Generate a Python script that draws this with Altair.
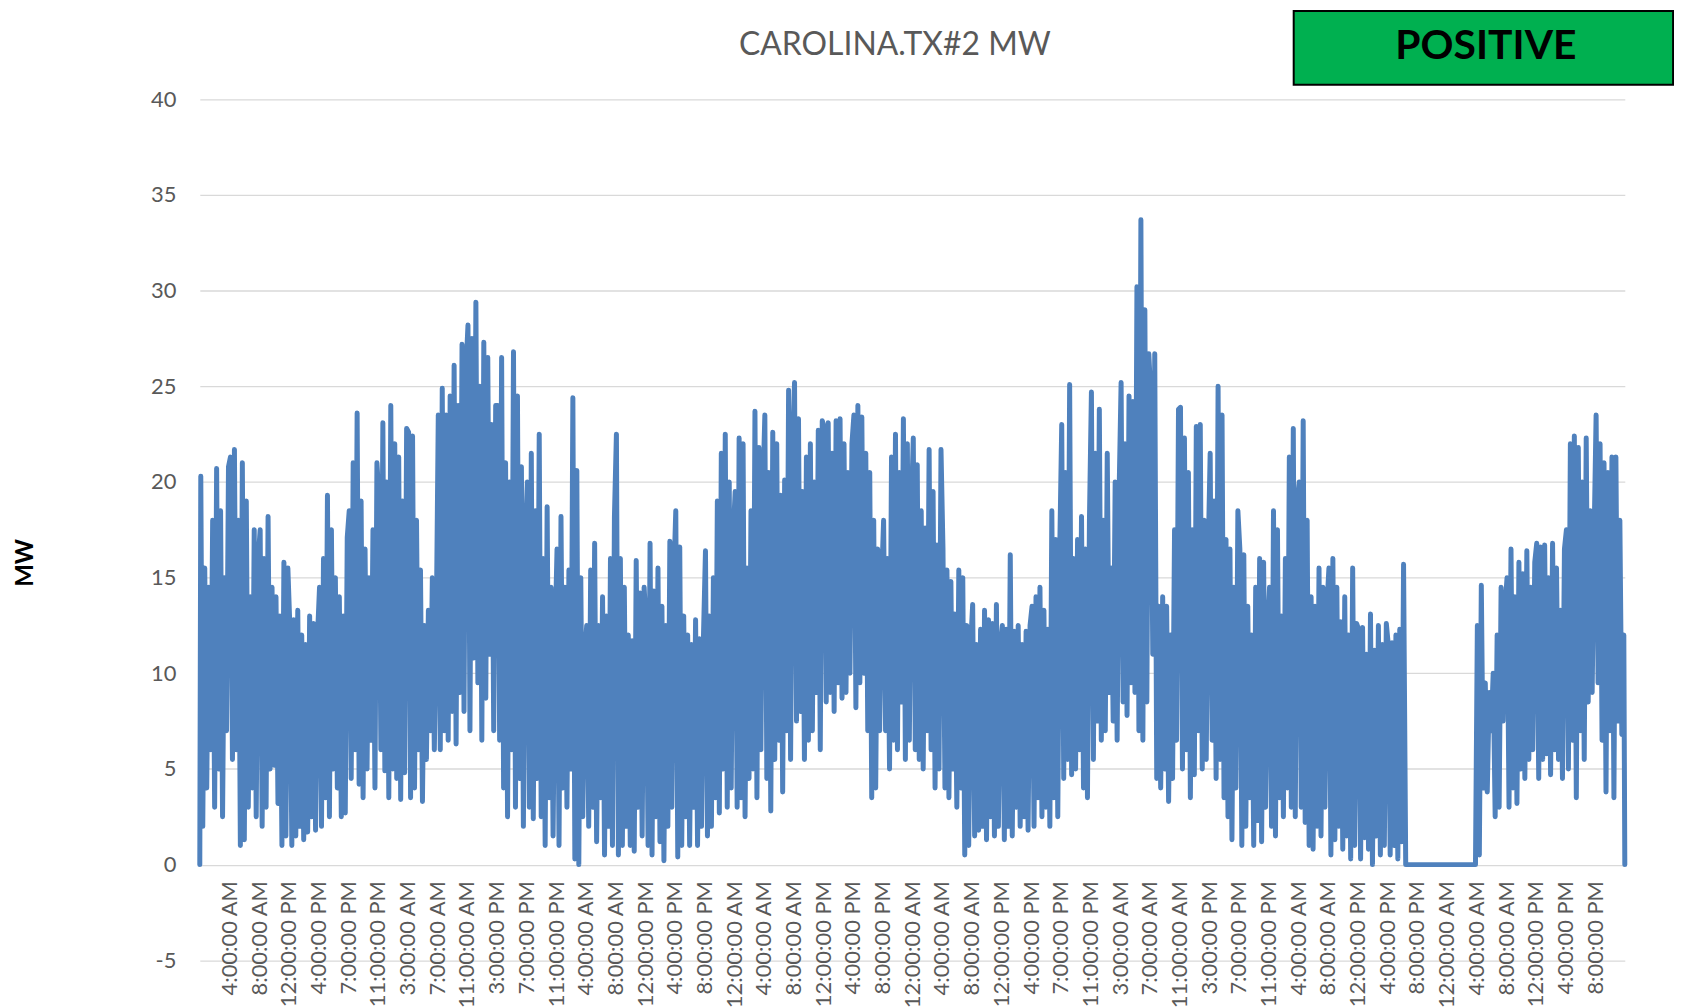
import json
import altair as alt
import pandas as pd

# ---------------- data ----------------
labels = ["4:00:00 AM", "8:00:00 AM", "12:00:00 PM", "4:00:00 PM", "7:00:00 PM", "11:00:00 PM",
          "3:00:00 AM", "7:00:00 AM", "11:00:00 AM", "3:00:00 PM", "7:00:00 PM", "11:00:00 PM",
          "4:00:00 AM", "8:00:00 AM", "12:00:00 PM", "4:00:00 PM", "8:00:00 PM", "12:00:00 AM",
          "4:00:00 AM", "8:00:00 AM", "12:00:00 PM", "4:00:00 PM", "8:00:00 PM", "12:00:00 AM",
          "4:00:00 AM", "8:00:00 AM", "12:00:00 PM", "4:00:00 PM", "7:00:00 PM", "11:00:00 PM",
          "3:00:00 AM", "7:00:00 AM", "11:00:00 AM", "3:00:00 PM", "7:00:00 PM", "11:00:00 PM",
          "4:00:00 AM", "8:00:00 AM", "12:00:00 PM", "4:00:00 PM", "8:00:00 PM", "12:00:00 AM",
          "4:00:00 AM", "8:00:00 AM", "12:00:00 PM", "4:00:00 PM", "8:00:00 PM"]

# spikes (peaks) and dips (troughs) read per label interval
peaks = [
    [20.3, 15.5, 14.5, 18.0, 20.7, 18.5, 15.0, 20.8],
    [21.3, 21.7, 18.0, 21.0, 19.0, 14.0, 17.5, 16.0],
    [17.5, 16.0, 18.2, 14.5, 14.0, 13.0, 15.8, 15.5],
    [12.5, 12.8, 13.3, 12.0, 11.5, 13.0, 12.6, 12.0],
    [14.5, 16.0, 19.3, 17.5, 15.0, 14.0, 13.0, 17.1],
    [18.5, 21.0, 23.6, 19.0, 16.5, 15.0, 17.5, 21.0],
    [19.2, 23.1, 20.0, 24.0, 22.0, 21.3, 19.0, 22.8],
    [22.6, 22.4, 18.0, 15.4, 12.5, 13.3, 15.0, 12.7],
    [23.5, 24.9, 23.5, 24.5, 26.1, 24.0, 27.2, 25.9],
    [28.2, 27.5, 29.4, 25.0, 27.3, 26.5, 23.0, 24.0],
    [24.0, 26.5, 21.0, 20.0, 26.8, 24.5, 20.8, 17.0],
    [20.0, 21.5, 18.5, 22.5, 16.0, 18.7, 14.5, 12.0],
    [16.5, 18.2, 14.5, 15.4, 24.4, 20.6, 15.0, 11.0],
    [12.5, 15.4, 16.8, 12.5, 14.0, 13.0, 16.0, 18.2],
    [22.5, 16.0, 14.5, 12.0, 11.7, 15.9, 14.2, 14.5],
    [12.5, 16.8, 14.3, 15.5, 13.5, 12.5, 16.9, 15.0],
    [18.5, 16.6, 13.0, 12.0, 11.5, 12.8, 11.8, 12.0],
    [16.4, 13.0, 15.0, 19.0, 21.5, 22.5, 20.0, 17.2],
    [19.5, 22.3, 22.0, 15.5, 18.5, 23.7, 21.8, 19.6],
    [23.5, 20.5, 22.6, 22.0, 19.3, 20.1, 24.8, 21.5],
    [25.2, 23.3, 19.5, 21.3, 22.0, 20.0, 22.7, 23.2],
    [22.8, 23.1, 21.5, 23.2, 23.3, 22.0, 20.5, 22.0],
    [23.5, 24.0, 23.4, 21.5, 20.5, 18.0, 16.5, 14.8],
    [18.0, 16.0, 21.3, 22.5, 20.5, 23.3, 22.0, 18.5],
    [22.3, 20.9, 18.5, 17.6, 21.7, 19.5, 16.7, 21.7],
    [16.5, 15.4, 14.8, 13.1, 15.4, 15.0, 12.5, 11.5],
    [13.6, 11.5, 12.3, 13.3, 12.8, 12.6, 13.6, 11.5],
    [12.5, 12.3, 16.2, 12.2, 12.5, 11.5, 12.2, 12.5],
    [13.5, 14.0, 14.5, 13.3, 12.3, 18.5, 17.0, 16.5],
    [23.0, 20.5, 25.1, 16.0, 17.0, 18.2, 16.5, 18.0],
    [24.7, 21.5, 23.8, 18.0, 21.5, 15.5, 20.0, 19.5],
    [25.2, 22.0, 24.5, 24.2, 30.2, 33.7, 29.0, 26.7],
    [24.5, 26.7, 13.5, 14.0, 13.5, 12.0, 17.5, 23.8],
    [23.9, 22.3, 20.5, 17.5, 22.9, 23.0, 18.0, 16.2],
    [21.5, 19.0, 25.0, 23.5, 17.0, 16.5, 14.5, 18.5],
    [16.5, 16.2, 13.5, 12.0, 14.5, 16.0, 15.8, 12.3],
    [14.5, 18.5, 17.5, 13.0, 16.0, 21.3, 22.8, 19.0],
    [20.0, 23.2, 18.0, 14.0, 13.5, 15.5, 14.5, 13.5],
    [15.5, 16.0, 14.5, 12.7, 14.0, 12.0, 15.5, 12.6],
    [12.3, 12.4, 11.0, 13.1, 11.2, 12.5, 11.5, 12.6],
    [11.5, 11.6, 12.0, 12.3, 15.7],
    [],
    [],
    [12.5, 14.6, 9.5, 9.0, 10.0, 12.0, 14.5, 13.5],
    [15.0, 16.5, 14.0, 15.8, 15.2, 16.4, 14.5, 15.8],
    [16.8, 16.6, 16.7, 15.0, 16.8, 15.5, 13.3, 16.5],
    [17.5, 22.0, 22.4, 21.8, 20.0, 22.3, 18.5, 17.2],
    [23.5, 22.0, 21.0, 20.5, 21.3, 21.3, 18.0, 12.0],
]
troughs = [
    [2.0, 4.0, 6.0, 3.0, 5.0, 2.5, 7.0],
    [5.5, 6.0, 1.0, 1.3, 3.0, 4.0, 2.5],
    [2.0, 3.0, 5.0, 5.2, 3.2, 1.0, 1.5],
    [1.0, 1.5, 2.0, 1.3, 1.7, 2.5, 1.8],
    [2.0, 3.5, 2.5, 5.0, 4.0, 2.5, 2.7],
    [4.5, 6.0, 4.2, 3.5, 5.0, 6.5, 4.0],
    [6.0, 4.9, 3.5, 5.0, 4.5, 3.4, 4.8],
    [3.5, 4.0, 6.0, 3.3, 5.5, 7.0, 6.0],
    [6.0, 7.0, 6.5, 8.0, 6.3, 9.0, 8.0],
    [7.0, 10.8, 9.5, 6.5, 8.7, 11.0, 7.0],
    [6.5, 4.0, 2.5, 6.0, 3.0, 4.5, 2.0],
    [3.0, 2.4, 4.5, 2.5, 1.0, 3.5, 1.5],
    [1.0, 4.0, 3.0, 5.0, 0.3, 0.0, 2.5],
    [2.0, 3.0, 1.2, 3.5, 0.5, 2.0, 1.0],
    [0.5, 1.0, 2.0, 1.0, 0.7, 3.0, 1.5],
    [1.0, 0.5, 2.5, 1.2, 0.2, 2.0, 3.0],
    [0.4, 1.0, 2.5, 1.0, 3.0, 1.0, 2.0],
    [1.5, 2.0, 3.5, 2.7, 5.0, 3.0, 4.0],
    [3.0, 3.5, 2.5, 4.5, 5.0, 3.5, 6.0],
    [4.5, 2.8, 5.5, 6.5, 3.8, 7.0, 5.5],
    [7.5, 8.0, 5.5, 6.5, 7.0, 9.0, 6.0],
    [8.5, 9.0, 8.0, 9.5, 8.7, 9.0, 10.0],
    [8.2, 9.5, 10.0, 7.0, 3.5, 4.0, 7.0],
    [7.0, 5.0, 6.5, 6.0, 8.5, 5.5, 6.5],
    [6.0, 5.5, 5.0, 7.0, 6.0, 4.0, 5.0],
    [4.0, 3.5, 5.0, 3.0, 4.0, 0.5, 1.0],
    [1.5, 1.8, 2.0, 1.3, 2.5, 1.5, 2.0],
    [1.3, 2.0, 1.5, 3.0, 2.0, 2.5, 1.8],
    [2.0, 3.5, 2.5, 3.0, 2.0, 3.5, 2.5],
    [4.5, 5.5, 4.7, 5.0, 6.0, 4.0, 3.5],
    [5.5, 7.5, 6.5, 7.0, 9.0, 7.5, 6.5],
    [8.5, 7.8, 9.5, 9.0, 7.0, 6.5, 8.5],
    [11.0, 4.5, 4.0, 5.0, 3.3, 4.5, 6.5],
    [5.0, 6.0, 3.5, 4.7, 7.0, 5.0, 5.5],
    [6.5, 4.5, 5.5, 3.5, 2.5, 1.3, 4.0],
    [1.0, 2.0, 3.5, 1.0, 2.3, 1.2, 3.0],
    [2.0, 1.5, 3.5, 2.5, 4.0, 3.0, 2.5],
    [3.0, 2.2, 1.0, 0.8, 2.0, 1.5, 3.0],
    [0.5, 1.3, 2.0, 0.8, 1.5, 0.3, 1.0],
    [0.3, 1.4, 0.8, 0.0, 1.5, 0.5, 1.0],
    [0.5, 1.0, 0.3, 1.2],
    [],
    [],
    [0.5, 4.0, 3.8, 7.0, 2.5, 3.0, 7.5],
    [3.0, 4.0, 3.2, 5.0, 4.5, 5.5, 6.0],
    [4.5, 5.5, 5.8, 4.7, 6.0, 5.5, 4.5],
    [5.0, 6.5, 3.5, 7.0, 5.5, 8.5, 9.0],
    [9.5, 6.5, 3.8, 7.0, 3.5, 7.5, 6.8],
]
partial_span = {40: (40.0, 40.58)}   # interval that stops early
zero_run = (40.62, 42.97)            # flat 0 MW outage
start_value = 0.0
end_value = 0.0

# ---------------- build the series table ----------------
rows = [(0.0, start_value)]
for i, (p, t) in enumerate(zip(peaks, troughs)):
    seq = []
    for k in range(max(len(p), len(t))):
        if k < len(p):
            seq.append(p[k])
        if k < len(t):
            seq.append(t[k])
    a, b = partial_span.get(i, (float(i), float(i + 1)))
    n = len(seq)
    for k, v in enumerate(seq):
        rows.append((a + (k + 0.5) / n * (b - a), v))
    if i == 40:
        rows.append((zero_run[0], 0.0))
        rows.append((zero_run[1], 0.0))
rows.append((48.0, end_value))
df = pd.DataFrame(rows, columns=["u", "mw"])

# ---------------- chart ----------------
W, H = 1431, 864.6
label_expr = json.dumps(labels) + "[datum.value - 1]"

line = alt.Chart(df).mark_line(
    color="#4F81BD", strokeWidth=5, strokeCap="round", strokeJoin="round"
).encode(
    x=alt.X("u:Q", scale=alt.Scale(domain=[0, 48], nice=False, zero=False),
            axis=alt.Axis(values=list(range(1, 48)), labelExpr=label_expr,
                          labelAngle=-90, labelAlign="right", labelBaseline="middle",
                          labelFont="Lato", labelFontSize=22, labelColor="#595959",
                          labelPadding=16, labelOverlap=False, labelFlush=False,
                          ticks=False, domain=False, grid=False,
                          offset=-H / 9, title=None)),
    y=alt.Y("mw:Q", scale=alt.Scale(domain=[-5, 40], nice=False, zero=False),
            axis=alt.Axis(values=list(range(-5, 45, 5)), grid=True,
                          labelExpr="'' + datum.value",
                          gridColor="#d9d9d9", gridWidth=1.3,
                          domain=False, ticks=False,
                          labelFont="Lato", labelFontSize=22, labelColor="#595959",
                          labelPadding=24,
                          title="MW", titleFont="Lato", titleFontSize=24,
                          titleFontWeight="bold", titleColor="#000000",
                          titleAngle=270, titleAlign="center", titleBaseline="middle",
                          titleX=-175, titleY=465)),
)

title = alt.Chart(pd.DataFrame({"t": ["CAROLINA.TX#2 MW"]})).mark_text(
    font="Lato", fontSize=32, color="#595959", align="center", baseline="middle"
).encode(x=alt.value(698), y=alt.value(-54.6), text="t:N")

box = alt.Chart(pd.DataFrame({"a": [0]})).mark_rect(
    fill="#00B050", stroke="#000000", strokeWidth=2
).encode(x=alt.value(1098.5), x2=alt.value(1479.5),
         y=alt.value(-88.6), y2=alt.value(-14.6))

badge = alt.Chart(pd.DataFrame({"t": ["POSITIVE"]})).mark_text(
    font="Lato", fontSize=41, fontWeight="bold", color="#000000",
    align="center", baseline="middle"
).encode(x=alt.value(1291.5), y=alt.value(-52.5), text="t:N")

chart = alt.layer(line, title, box, badge).properties(
    width=W, height=H,
    autosize=alt.AutoSizeParams(type="none"),
    padding={"left": 192.6, "top": 89.6, "right": 49.4, "bottom": 45},
    background="white",
).configure_view(stroke=None)

chart.save("out.html", embed_options={"renderer": "svg", "actions": False})
